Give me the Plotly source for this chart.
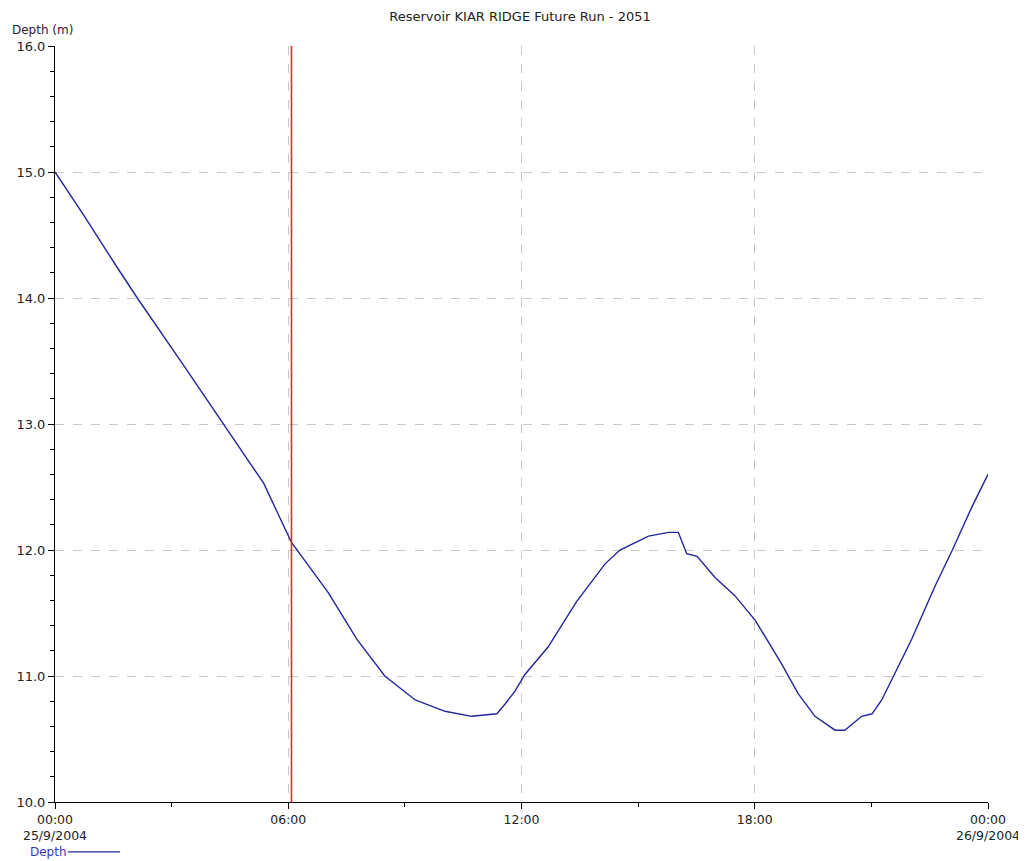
import plotly.graph_objects as go

# ---- data ----
times = [
    "2004-09-25 00:00", "2004-09-25 00:44", "2004-09-25 01:35", "2004-09-25 02:07",
    "2004-09-25 03:18", "2004-09-25 04:20", "2004-09-25 05:22", "2004-09-25 06:05",
    "2004-09-25 07:02", "2004-09-25 07:46", "2004-09-25 08:29",
    "2004-09-25 09:16", "2004-09-25 10:02", "2004-09-25 10:43", "2004-09-25 11:22",
    "2004-09-25 11:35", "2004-09-25 11:50", "2004-09-25 12:05", "2004-09-25 12:41",
    "2004-09-25 13:25", "2004-09-25 14:09", "2004-09-25 14:32", "2004-09-25 15:16",
    "2004-09-25 15:47", "2004-09-25 16:02", "2004-09-25 16:15", "2004-09-25 16:31",
    "2004-09-25 16:59", "2004-09-25 17:29", "2004-09-25 18:01", "2004-09-25 18:41",
    "2004-09-25 19:07", "2004-09-25 19:33", "2004-09-25 20:04", "2004-09-25 20:19",
    "2004-09-25 20:45", "2004-09-25 21:01", "2004-09-25 21:16", "2004-09-25 21:34",
    "2004-09-25 22:02", "2004-09-25 22:38", "2004-09-25 23:05", "2004-09-25 23:35",
    "2004-09-26 00:00",
]
depth = [
    15.00, 14.66, 14.25, 14.00,
    13.47, 13.00, 12.53, 12.06,
    11.66, 11.29, 11.00,
    10.81, 10.72, 10.68, 10.70,
    10.78, 10.88, 11.01, 11.23,
    11.59, 11.89, 12.00, 12.11,
    12.14, 12.14, 11.97, 11.95,
    11.78, 11.64, 11.44, 11.10,
    10.86, 10.68, 10.57, 10.57,
    10.68, 10.70, 10.81, 11.00,
    11.29, 11.71, 12.00, 12.34,
    12.60,
]
marker_time = "2004-09-25 06:05"
x_tick_vals = ["2004-09-25 00:00", "2004-09-25 06:00", "2004-09-25 12:00",
               "2004-09-25 18:00", "2004-09-26 00:00"]
x_tick_text = ["00:00<br>25/9/2004", "06:00", "12:00", "18:00", "00:00<br>26/9/2004"]
y_range = [10, 16]

title_text = "Reservoir KIAR RIDGE Future Run - 2051"
y_title = "Depth (m)"
series_name = "Depth"

FONT = "DejaVu Sans"
LINE_COLOR = "#24249a"
TEXT = "#222222"

fig = go.Figure()
fig.add_trace(go.Scatter(
    x=times, y=depth, mode="lines", name=series_name,
    line=dict(color=LINE_COLOR, width=1.4), showlegend=False,
))

fig.add_shape(type="line", xref="x", yref="paper",
              x0=marker_time, x1=marker_time, y0=0, y1=1,
              line=dict(color="#ff2020", width=1.6))

# legend (text then line sample, as in reference)
fig.add_annotation(text=series_name, xref="paper", yref="paper",
                   x=-0.029, y=-0.066, xanchor="left", yanchor="middle",
                   showarrow=False, font=dict(family=FONT, size=12, color="#3a3ab0"))
fig.add_shape(type="line", xref="paper", yref="paper",
              x0=0.0139, x1=0.0697, y0=-0.066, y1=-0.066,
              line=dict(color=LINE_COLOR, width=1.3))

fig.add_annotation(text=y_title, xref="paper", yref="paper",
                   x=-0.048, y=1.0, xanchor="left", yanchor="middle", yshift=16,
                   showarrow=False, font=dict(family=FONT, size=12, color="#2a2040"))

# page body has an 8px margin: shrink the figure so the plot area lands where the reference has it
fig.update_layout(
    width=1018, height=853,
    margin=dict(l=47, r=38, t=38, b=59),
    paper_bgcolor="white", plot_bgcolor="white",
    font=dict(family=FONT, size=13, color=TEXT),
    title=dict(text=title_text, x=(520 - 8) / 1018, xanchor="center",
               y=1 - 8 / 853, yanchor="middle",
               font=dict(family=FONT, size=13, color=TEXT)),
)
fig.update_xaxes(
    type="date", automargin=False,
    range=["2004-09-25 00:00", "2004-09-26 00:00"],
    tickvals=x_tick_vals, ticktext=x_tick_text,
    showline=True, linecolor="black", linewidth=1,
    ticks="outside", ticklen=6, tickcolor="black",
    showgrid=True, gridcolor="#c8c8c8", griddash="dash", gridwidth=1,
    minor=dict(dtick=3 * 3600 * 1000, ticks="outside", ticklen=4, tickcolor="black",
               showgrid=False),
    zeroline=False, tickfont=dict(family=FONT, size=12.5, color=TEXT),
)
fig.update_yaxes(
    range=y_range, dtick=1, tickformat=".1f", automargin=False,
    showline=True, linecolor="black", linewidth=1,
    ticks="outside", ticklen=6, tickcolor="black",
    showgrid=True, gridcolor="#c8c8c8", griddash="dash", gridwidth=1,
    minor=dict(dtick=0.2, ticks="outside", ticklen=4, tickcolor="black", showgrid=False),
    zeroline=False, tickfont=dict(family=FONT, size=13, color=TEXT),
)

fig.write_html("out.html")
